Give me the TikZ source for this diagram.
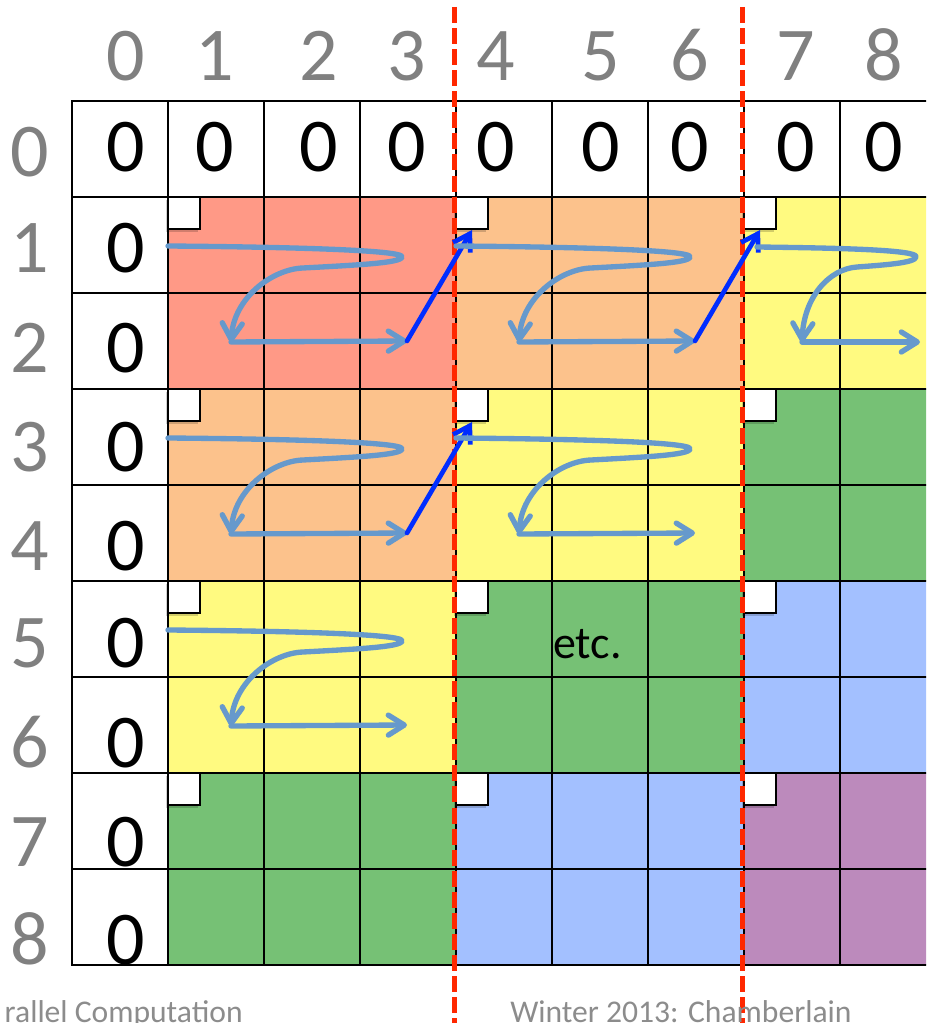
\documentclass[tikz,border=0pt]{standalone}
\usepackage{fontspec}
\setmainfont{Carlito}
\usetikzlibrary{arrows.meta}
\definecolor{cSalmon}{RGB}{255,153,134}
\definecolor{cPeach}{RGB}{252,194,140}
\definecolor{cYellow}{RGB}{255,250,128}
\definecolor{cGreen}{RGB}{118,193,117}
\definecolor{cBlue}{RGB}{163,192,255}
\definecolor{cPurple}{RGB}{188,138,188}
\definecolor{lblue}{RGB}{102,153,204}
\definecolor{dblue}{RGB}{0,45,255}
\definecolor{rdash}{RGB}{255,40,0}
\definecolor{lgray}{RGB}{128,128,128}
\definecolor{fgray}{RGB}{140,140,140}
\tikzset{
  gridline/.style={line width=1.5pt, black, line cap=rect},
  cellzero/.style={inner sep=0pt, anchor=base, font=\fontsize{57}{57}\selectfont, text=black},
  lab/.style={inner sep=0pt, anchor=base, font=\fontsize{57}{57}\selectfont, text=lgray},
  flow/.style={lblue, line width=4pt, line cap=round, line join=round},
  flowtip/.style={flow, -{Straight Barb[length=12pt,width=15pt,round]}},
  jump/.style={dblue, line width=3.5pt, line cap=round, -{Straight Barb[length=12pt,width=15pt]}},
  sep/.style={rdash, line width=3.6pt, dash pattern=on 12pt off 3.8pt},
  corner/.style={fill=white, draw=black, line width=1.5pt},
  foot/.style={inner sep=0pt, font=\fontsize{23.7}{24}\selectfont, text=fgray},
}
\newcommand{\zigzag}[4]{% #1 ox, #2 oy, #3 name, #4 jump yes/no
  \begin{scope}[shift={(#1,#2)}]
    \coordinate (#3s) at (0,49);
    \coordinate (#3t) at (234,60);
    \coordinate (#3b) at (135,71);
    \coordinate (#3a) at (63,145);
    \coordinate (#3c) at (239,144);
    \coordinate (#3d) at (304,33);
    \draw[flowtip] (#3s) .. controls (120,50) and (236,53) .. (#3t)
      .. controls (233,66) and (190,68) .. (#3b)
      .. controls (105,72) and (66,100) .. (#3a);
    \draw[flowtip] (#3a) -- (#3c);
    \ifx#4y\draw[jump] (#3c) -- (#3d);\fi
  \end{scope}}
\begin{document}
\begin{tikzpicture}[x=0.75pt,y=-0.75pt]
\useasboundingbox (0,0) rectangle (926,1023);
\begin{scope}
\clip (0,0) rectangle (926,1023);
\fill[white] (0,0) rectangle (926,1023);
% block fills
\foreach \r/\c/\col in {0/0/cSalmon, 0/1/cPeach, 0/2/cYellow, 1/0/cPeach, 1/1/cYellow, 1/2/cGreen, 2/0/cYellow, 2/1/cGreen, 2/2/cBlue, 3/0/cGreen, 3/1/cBlue, 3/2/cPurple}
  \fill[\col] ({168+288*\c},{197+192*\r}) rectangle ++(288,192);
% grid
\foreach \k in {0,...,9} {
  \draw[gridline] ({72+96*\k},101) -- ({72+96*\k},965);
  \draw[gridline] (72,{101+96*\k}) -- (940,{101+96*\k});
}
% corner squares
\foreach \r in {0,...,3} \foreach \c in {0,1,2} {
  \fill[black, opacity=0.18] ({168+288*\c-2},{197+192*\r+3}) rectangle ++(32,32);
  \draw[corner] ({168+288*\c},{197+192*\r}) rectangle ++(32,32);
}
% separators
\draw[sep] (454.5,7) -- (454.5,1030);
\draw[sep] (742.5,7) -- (742.5,1030);
% labels
\foreach \x [count=\i from 0] in {126,215,319,407,496,601,690,796,884} {
  \node[lab] (col\i) at (\x,81) {\i};
  \node[cellzero] (top\i) at (\x,172) {0};
}
\node[lab] (row0) at (30,177) {0};
\foreach \y [count=\i] in {273,372,471,570,667,767,866,964} {
  \node[lab] (row\i) at (30,\y) {\i};
  \node[cellzero] (left\i) at (126,\y) {0};
}
% arrows
\zigzag{168}{197}{p}{y}
\zigzag{456}{197}{q}{y}
\zigzag{168}{389}{u}{y}
\zigzag{456}{389}{v}{n}
\zigzag{168}{581}{w}{n}
\begin{scope}[shift={(744,197)}]
  \coordinate (rs) at (13,50);
  \coordinate (rt) at (172,60);
  \coordinate (rb) at (113,70);
  \coordinate (ra) at (58,145);
  \coordinate (rc) at (176,145);
  \draw[flowtip] (rs) .. controls (100,51) and (174,53) .. (rt)
    .. controls (171,66) and (140,68) .. (rb)
    .. controls (85,72) and (60,100) .. (ra);
  \draw[flowtip] (ra) -- (rc);
\end{scope}
\node[inner sep=0pt, anchor=base west, font=\fontsize{34.5}{35}\selectfont] (etc) at (553,658) {etc.};
% footer
\node[foot, anchor=base east] (foot1) at (243,1022) {rallel Computation};
\node[foot, anchor=base west] (foot2) at (510,1022) {Winter 2013: Chamberlain};
\end{scope}
\end{tikzpicture}
\end{document}
